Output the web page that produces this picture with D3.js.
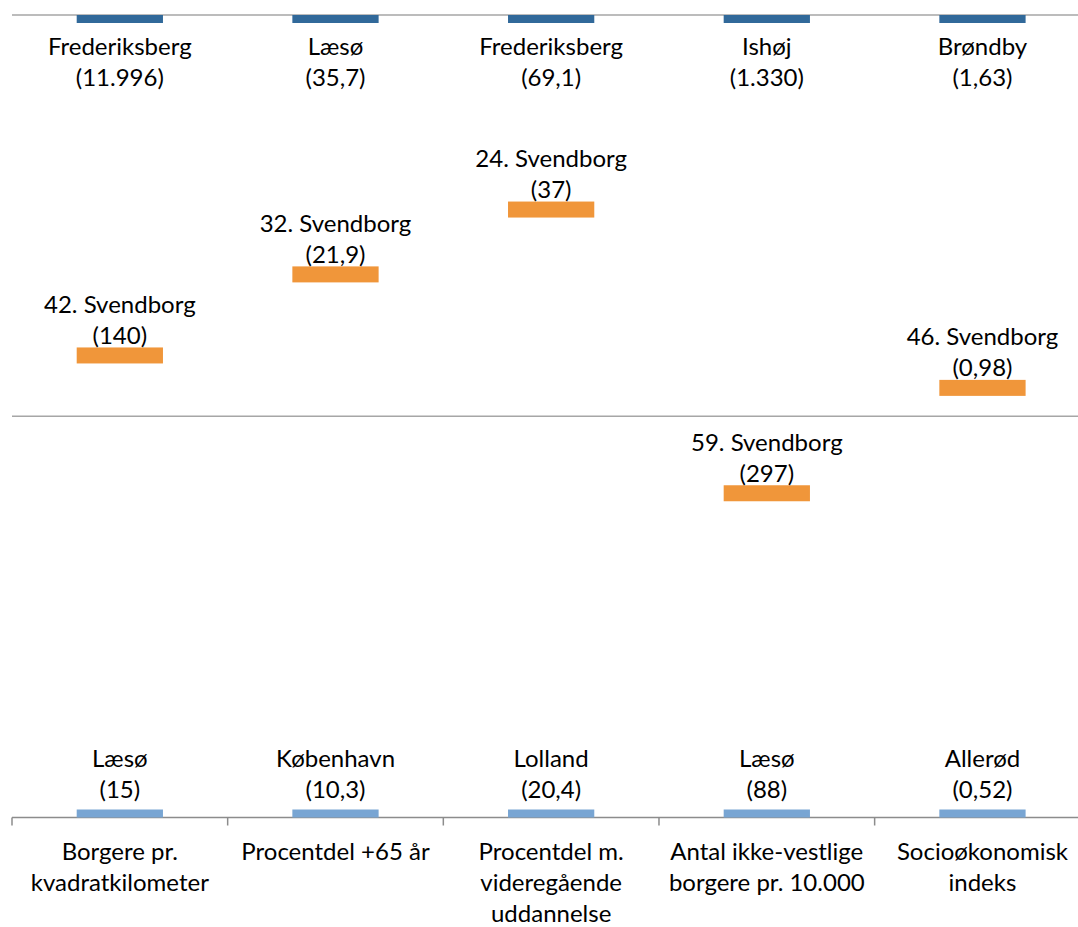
<!DOCTYPE html>
<html>
<head>
<meta charset="utf-8">
<script src="https://cdn.jsdelivr.net/npm/d3@7"></script>
<style>
  html, body { margin: 0; padding: 0; background: #fff; }
  svg { display: block; font-family: Lato, "Open Sans", sans-serif; }
</style>
</head>
<body>
<svg id="chart" width="1078" height="927"></svg>
<script>
// categories (multi-line labels)
const categories = [
  ["Borgere pr.", "kvadratkilometer"],
  ["Procentdel +65 år"],
  ["Procentdel m.", "videregående", "uddannelse"],
  ["Antal ikke-vestlige", "borgere pr. 10.000"],
  ["Socioøkonomisk", "indeks"]
];
const bestNames = ["Frederiksberg", "Læsø", "Frederiksberg", "Ishøj", "Brøndby"];
const bestValues = ["11.996", "35,7", "69,1", "1.330", "1,63"];
const worstNames = ["Læsø", "København", "Lolland", "Læsø", "Allerød"];
const worstValues = ["15", "10,3", "20,4", "88", "0,52"];
const svendborgRank = [42, 32, 24, 59, 46];
const svendborgValues = ["140", "21,9", "37", "297", "0,98"];

// rank scale: best at top, worst at bottom
const rankMin = 0, rankMax = 99, rankMid = 49.5;

const W = 1078, H = 927;
const margin = { left: 12, top: 15, bottom: 109.5 };
const plotRight = 1090.3;

const svg = d3.select("#chart");
const keys = categories.map((c, i) => i);

const x = d3.scaleBand().domain(keys).range([margin.left, plotRight]).padding(0);
const y = d3.scaleLinear().domain([rankMin, rankMax]).range([margin.top, H - margin.bottom]);

const barW = x.bandwidth() * 0.4;
const barH = 16;
const fontSize = 24;
const lineH = 31;

svg.append("clipPath").attr("id", "plotclip")
  .append("rect")
  .attr("x", 0).attr("y", y(rankMin))
  .attr("width", W).attr("height", y(rankMax) - y(rankMin));

// lines
svg.append("line")
  .attr("x1", margin.left).attr("x2", W)
  .attr("y1", y(rankMin)).attr("y2", y(rankMin))
  .attr("stroke", "#a6a6a6").attr("stroke-width", 1.5);
svg.append("line")
  .attr("x1", margin.left).attr("x2", W)
  .attr("y1", y(rankMid)).attr("y2", y(rankMid))
  .attr("stroke", "#a6a6a6").attr("stroke-width", 1.5);

// bottom axis with category boundaries as ticks
const axisY = y(rankMax);
svg.append("line")
  .attr("x1", margin.left).attr("x2", W)
  .attr("y1", axisY).attr("y2", axisY)
  .attr("stroke", "#8c8c8c").attr("stroke-width", 1.5);
svg.append("g").selectAll("line")
  .data(d3.range(categories.length + 1))
  .join("line")
  .attr("x1", i => margin.left + i * x.bandwidth())
  .attr("x2", i => margin.left + i * x.bandwidth())
  .attr("y1", axisY).attr("y2", axisY + 8)
  .attr("stroke", "#8c8c8c").attr("stroke-width", 1.5);

const bars = svg.append("g").attr("clip-path", "url(#plotclip)");

function drawMarkers(cls, positions, color) {
  bars.selectAll("rect." + cls)
    .data(keys)
    .join("rect")
    .attr("class", cls)
    .attr("x", i => x(i) + (x.bandwidth() - barW) / 2)
    .attr("y", i => y(positions[i]) - barH / 2)
    .attr("width", barW)
    .attr("height", barH)
    .attr("fill", color);
}
drawMarkers("best", keys.map(() => rankMin), "#31699a");
drawMarkers("worst", keys.map(() => rankMax), "#78a5d3");
drawMarkers("svend", svendborgRank, "#f0963a");

function label(lines, cx, baseY) {
  const t = svg.append("text")
    .attr("text-anchor", "middle")
    .attr("font-size", fontSize)
    .attr("fill", "#000");
  lines.forEach((s, k) => {
    t.append("tspan").attr("x", cx).attr("y", baseY + k * lineH).text(s);
  });
}

keys.forEach(i => {
  const cx = x(i) + x.bandwidth() / 2;
  label([bestNames[i], "(" + bestValues[i] + ")"], cx, y(rankMin) + 40);
  label([svendborgRank[i] + ". Svendborg", "(" + svendborgValues[i] + ")"], cx, y(svendborgRank[i]) - 42.5);
  label([worstNames[i], "(" + worstValues[i] + ")"], cx, y(rankMax) - 51);
  label(categories[i], cx, axisY + 42.5);
});
</script>
</body>
</html>
